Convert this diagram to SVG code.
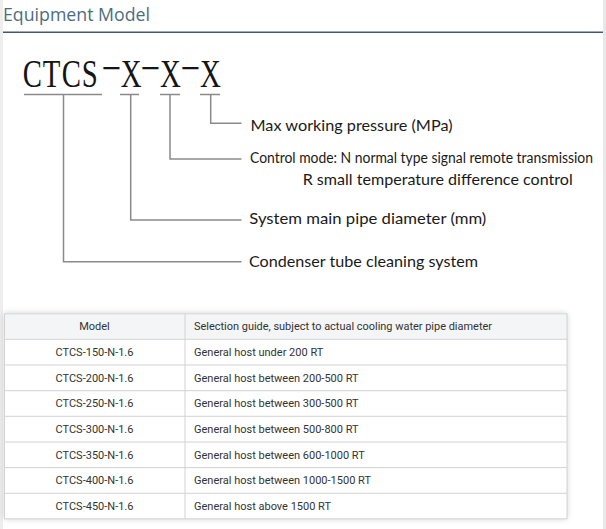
<svg xmlns="http://www.w3.org/2000/svg" width="606" height="529" viewBox="0 0 606 529">
<defs>
<style>
.lead{fill:none;stroke:#8a8a8a;stroke-width:1.5}
.ann{font-family:Lato,"Open Sans",sans-serif;font-size:16px;fill:#1a1a1a}
.code{font-family:"Liberation Serif",serif;font-size:40px;fill:#151515}
.dash{font-size:48px}
.cell{font-family:Roboto,"Liberation Sans",sans-serif;font-size:11px;fill:#333}
.grid{stroke:#d2d2d2;stroke-width:1;fill:none}
</style>
<filter id="sh" x="-5%" y="-10%" width="110%" height="120%">
<feGaussianBlur in="SourceAlpha" stdDeviation="3"/>
<feComponentTransfer><feFuncA type="linear" slope="0.18"/></feComponentTransfer>
<feMerge><feMergeNode/><feMergeNode in="SourceGraphic"/></feMerge>
</filter>
</defs>
<rect x="0" y="0" width="606" height="529" fill="#ffffff"/>
<rect x="0" y="0" width="3" height="529" fill="#eeeeee"/>
<rect x="603" y="0" width="3" height="529" fill="#e8e8e8"/>

<g id="title">
<text x="3" y="21" font-family="'Open Sans',sans-serif" font-size="19" fill="#4d6c80" textLength="147" lengthAdjust="spacingAndGlyphs">Equipment Model</text>
<line x1="3" y1="32.3" x2="603" y2="32.3" stroke="#42586a" stroke-width="1.5"/>
</g>

<g id="code">
<text class="code" transform="scale(0.72,1)" y="87"><tspan x="31.5 59.3 85.7 113.5">CTCS</tspan><tspan class="dash" x="141" dy="-3">−</tspan><tspan x="167.6" dy="3">X</tspan><tspan class="dash" x="195.1" dy="-3">−</tspan><tspan x="222.2" dy="3">X</tspan><tspan class="dash" x="250.7" dy="-3">−</tspan><tspan x="277.8" dy="3">X</tspan></text>
</g>

<g id="connectors">
<line class="lead" x1="24" y1="94.5" x2="102" y2="94.5"/>
<line class="lead" x1="120" y1="94.5" x2="139" y2="94.5"/>
<line class="lead" x1="160" y1="94.5" x2="180" y2="94.5"/>
<line class="lead" x1="200" y1="94.5" x2="220" y2="94.5"/>
<polyline class="lead" points="210.7,94.5 210.7,123.3 241.5,123.3"/>
<polyline class="lead" points="170,94.5 170,159 241.5,159"/>
<polyline class="lead" points="130.7,94.5 130.7,220 241.5,220"/>
<polyline class="lead" points="63.5,94.5 63.5,261.7 241.5,261.7"/>
</g>

<g id="n-pressure"><text class="ann" x="250.5" y="131" textLength="202" lengthAdjust="spacingAndGlyphs">Max working pressure (MPa)</text></g>
<g id="n-control">
<text class="ann" transform="translate(250,163) scale(0.85,1)" x="0" y="0" textLength="403.5" lengthAdjust="spacingAndGlyphs">Control mode: N normal type signal remote transmission</text>
<text class="ann" x="302.7" y="185" textLength="270" lengthAdjust="spacingAndGlyphs">R small temperature difference control</text>
</g>
<g id="n-diameter"><text class="ann" x="249.3" y="224" textLength="237" lengthAdjust="spacingAndGlyphs">System main pipe diameter (mm)</text></g>
<g id="n-system"><text class="ann" x="249" y="267" textLength="229" lengthAdjust="spacingAndGlyphs">Condenser tube cleaning system</text></g>

<g id="table">
<rect x="4" y="313.3" width="563" height="205.7" fill="#ffffff" filter="url(#sh)"/>
<rect x="4" y="313.3" width="563" height="26" fill="#f4f5f6"/>
<rect class="grid" x="4.5" y="313.8" width="562.5" height="205"/>
<line class="grid" x1="185" y1="313.3" x2="185" y2="519"/>
<line class="grid" x1="4" y1="339.3" x2="567" y2="339.3"/>
<line class="grid" x1="4" y1="365" x2="567" y2="365"/>
<line class="grid" x1="4" y1="390.7" x2="567" y2="390.7"/>
<line class="grid" x1="4" y1="416.3" x2="567" y2="416.3"/>
<line class="grid" x1="4" y1="442" x2="567" y2="442"/>
<line class="grid" x1="4" y1="467.6" x2="567" y2="467.6"/>
<line class="grid" x1="4" y1="493.3" x2="567" y2="493.3"/>
<g text-anchor="middle">
<text class="cell" x="94.5" y="330">Model</text>
<text class="cell" x="94.5" y="356">CTCS-150-N-1.6</text>
<text class="cell" x="94.5" y="381.7">CTCS-200-N-1.6</text>
<text class="cell" x="94.5" y="407.3">CTCS-250-N-1.6</text>
<text class="cell" x="94.5" y="433">CTCS-300-N-1.6</text>
<text class="cell" x="94.5" y="458.7">CTCS-350-N-1.6</text>
<text class="cell" x="94.5" y="484.3">CTCS-400-N-1.6</text>
<text class="cell" x="94.5" y="510">CTCS-450-N-1.6</text>
</g>
<text class="cell" x="194" y="330" textLength="298" lengthAdjust="spacingAndGlyphs">Selection guide, subject to actual cooling water pipe diameter</text>
<text class="cell" x="194" y="356">General host under 200 RT</text>
<text class="cell" x="194" y="381.7">General host between 200-500 RT</text>
<text class="cell" x="194" y="407.3">General host between 300-500 RT</text>
<text class="cell" x="194" y="433">General host between 500-800 RT</text>
<text class="cell" x="194" y="458.7">General host between 600-1000 RT</text>
<text class="cell" x="194" y="484.3">General host between 1000-1500 RT</text>
<text class="cell" x="194" y="510">General host above 1500 RT</text>
</g>
</svg>
